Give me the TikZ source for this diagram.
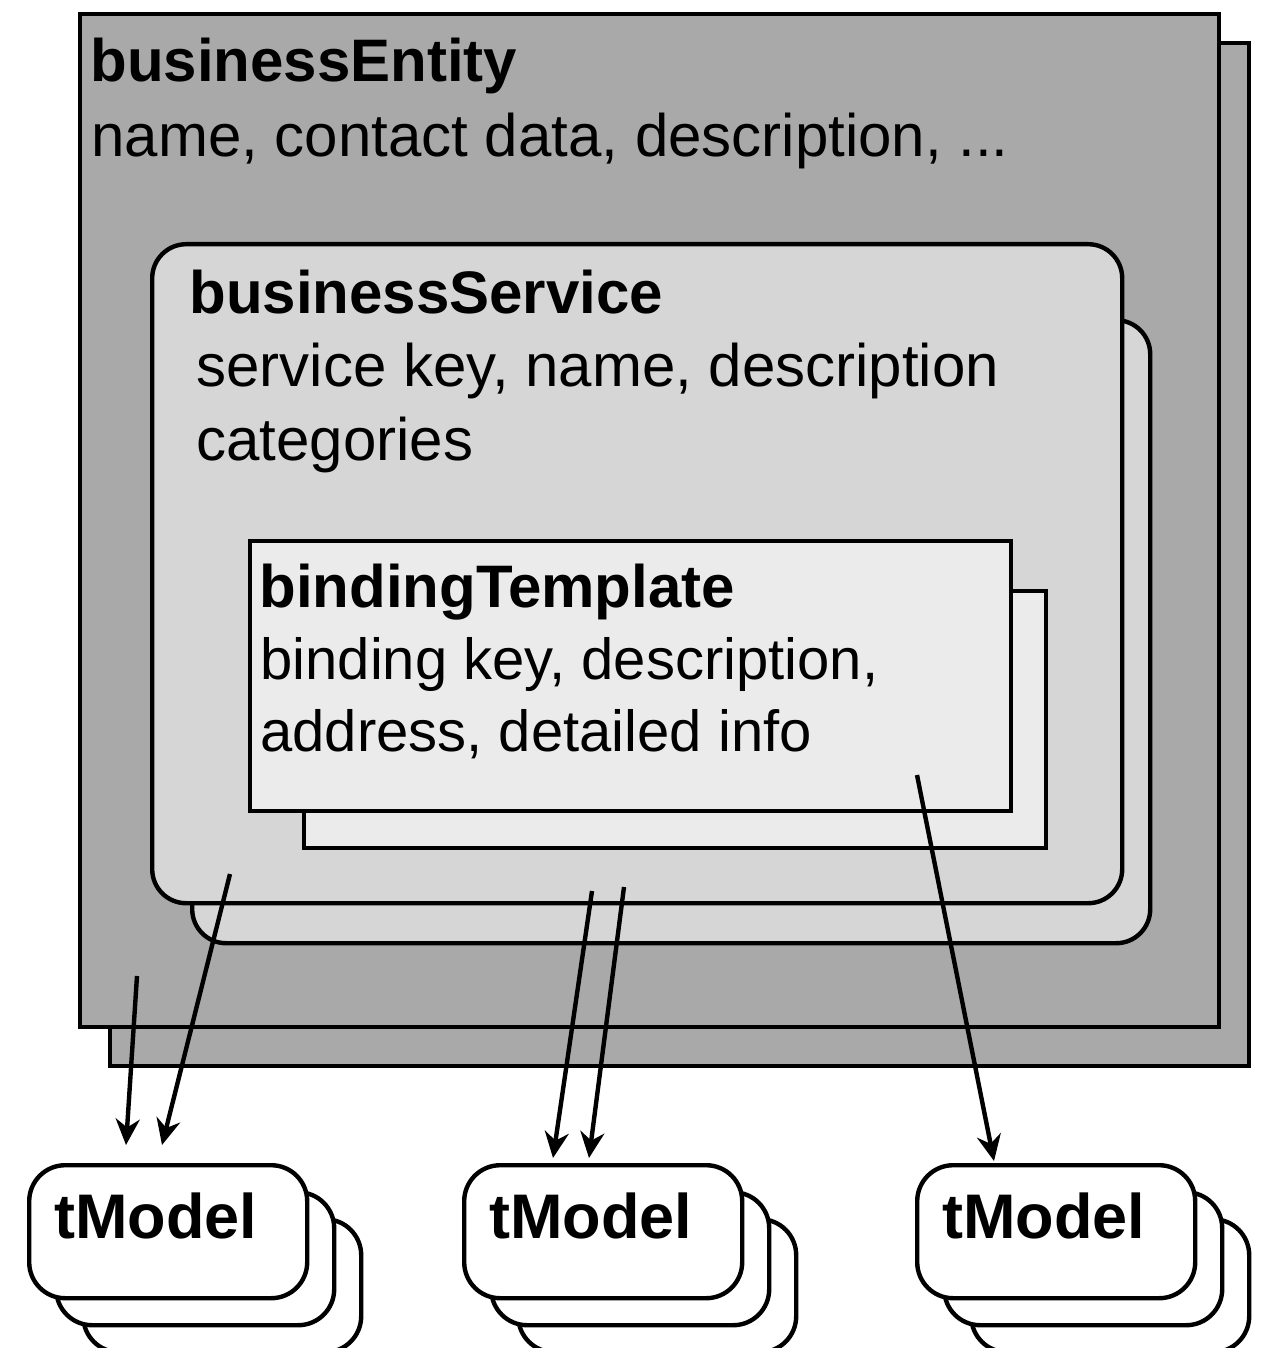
\documentclass[tikz,border=0pt]{standalone}
\usepackage{fontspec}
\setmainfont{Liberation Sans}
\usetikzlibrary{arrows.meta}

\definecolor{entityfill}{HTML}{A9A9A9}
\definecolor{servicefill}{HTML}{D6D6D6}
\definecolor{templatefill}{HTML}{EBEBEB}

\begin{document}
\begin{tikzpicture}[
x=0.5pt, y=-0.5pt,
frame/.style={draw, line width=2.2pt, inner sep=0pt, anchor=north west},
entity/.style={frame, fill=entityfill},
service/.style={frame, fill=servicefill, rounded corners=17pt},
template/.style={frame, fill=templatefill},
tmodel/.style={frame, fill=white, rounded corners=18pt, minimum width=139pt, minimum height=66.5pt},
heading/.style={anchor=base west, inner sep=0pt, font=\fontsize{30}{36}\selectfont\bfseries},
entry/.style={anchor=base west, inner sep=0pt, font=\fontsize{30}{36}\selectfont},
link/.style={line width=2.2pt, -{Stealth[length=13pt, width=12pt]}}
]
\useasboundingbox (0,0) rectangle (1263,1348);

% Boxes
\node[entity, minimum width=569.5pt, minimum height=511.5pt] (entityback) at (108,41) {};
\node[entity, minimum width=569.5pt, minimum height=506.5pt] (entity) at (78,12) {};
\node[service, minimum width=479pt, minimum height=311.5pt] (serviceback) at (190,318) {};
\node[service, minimum width=485pt, minimum height=329.5pt] (service) at (150,242) {};
\node[template, minimum width=371pt, minimum height=128.5pt] (templateback) at (302,589) {};
\node[template, minimum width=380.5pt, minimum height=135pt] (template) at (248,539) {};

% Texts
\node[heading] (entitytitle) at (90,82) {businessEntity};
\node[entry] (entityinfo) at (91,157) {name, contact data, description, ...};
\node[heading] (servicetitle) at (189,313) {businessService};
\node[entry] (serviceinfo) at (196,386) {service key, name, description};
\node[entry] (servicecat) at (196,460) {categories};
\node[heading] (templatetitle) at (259,607) {bindingTemplate};
\node[entry, font=\fontsize{29}{36}\selectfont] (templateinfo) at (260,679) {binding key, description,};
\node[entry, font=\fontsize{29}{36}\selectfont] (templateaddr) at (260,751) {address, detailed info};

% tModel stacks
\foreach \x/\name in {27/A, 462/B, 915/C} {
  \node[tmodel] (tmodel\name back) at (\x+54,1217) {};
  \node[tmodel] (tmodel\name mid) at (\x+27,1190) {};
  \node[tmodel] (tmodel\name) at (\x,1163) {};
  \node[heading, font=\fontsize{31.5}{36}\selectfont\bfseries] (tmodel\name text) at (\x+27,1238) {tModel};
}

% Arrows
\coordinate (entitysrc) at (137,976);
\coordinate (servicesrc) at (230,874);
\coordinate (servicesrcB) at (592,891);
\coordinate (servicesrcC) at (624,887);
\coordinate (templatesrc) at (917,775);
\coordinate (tipA) at (126,1145);
\coordinate (tipAA) at (162,1145);
\coordinate (tipB) at (553,1158);
\coordinate (tipBB) at (589,1158);
\coordinate (tipC) at (994,1161);

\draw[link] (entitysrc) -- (tipA);
\draw[link] (servicesrc) -- (tipAA);
\draw[link] (servicesrcB) -- (tipB);
\draw[link] (servicesrcC) -- (tipBB);
\draw[link] (templatesrc) -- (tipC);
\end{tikzpicture}
\end{document}
